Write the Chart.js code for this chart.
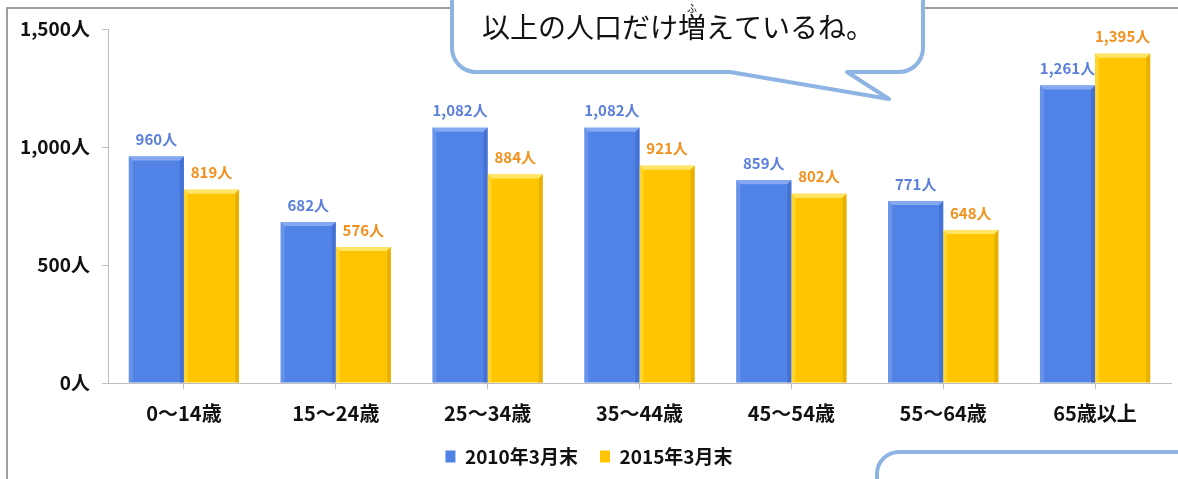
<!DOCTYPE html>
<html lang="ja">
<head>
<meta charset="utf-8">
<script src="https://cdn.jsdelivr.net/npm/chart.js@4"></script>
<style>
  html, body { margin: 0; padding: 0; background: #fff; }
  #wrap { width: 1178px; height: 479px; position: relative; }
</style>
</head>
<body>
<div id="wrap"><canvas id="ageChart"></canvas></div>
<script>
// data
const categories = ["0〜14歳", "15〜24歳", "25〜34歳", "35〜44歳", "45〜54歳", "55〜64歳", "65歳以上"];
const seriesNames = ["2010年3月末", "2015年3月末"];
const values2010 = [960, 682, 1082, 1082, 859, 771, 1261];
const values2015 = [819, 576, 884, 921, 802, 648, 1395];
const yTicks = [0, 500, 1000, 1500];
const bubbleText = "以上の人口だけ増えているね。";
const rubyText = "ふ";

const FONT = "'Noto Sans CJK JP', 'Noto Sans', sans-serif";
const fmt = v => v.toLocaleString("en-US") + "人";

// per dataset: fill, light bevel, dark bevel, label colour
const looks = [
  { fill: "#5182e6", light: "#86a8f2", dark: "#3a66c8", label: "#5b7fdc" },
  { fill: "#ffc600", light: "#ffe566", dark: "#d9a200", label: "#f3901c" }
];

// bevel look + value labels over each bar
const barDecor = {
  id: "barDecor",
  afterDatasetsDraw(chart) {
    const ctx = chart.ctx;
    chart.data.datasets.forEach((ds, i) => {
      const look = looks[i];
      chart.getDatasetMeta(i).data.forEach((bar, j) => {
        const l = bar.x - bar.width / 2, r = bar.x + bar.width / 2;
        const t = bar.y, b = bar.base, bv = 4;
        ctx.save();
        ctx.fillStyle = look.light;
        ctx.beginPath();
        ctx.moveTo(l, t); ctx.lineTo(r, t); ctx.lineTo(r - bv, t + bv); ctx.lineTo(l + bv, t + bv);
        ctx.closePath(); ctx.fill();
        ctx.globalAlpha = 0.45;
        ctx.beginPath();
        ctx.moveTo(l, t); ctx.lineTo(l + bv, t + bv); ctx.lineTo(l + bv, b); ctx.lineTo(l, b);
        ctx.closePath(); ctx.fill();
        ctx.globalAlpha = 0.6;
        ctx.fillStyle = look.dark;
        ctx.beginPath();
        ctx.moveTo(r, t); ctx.lineTo(r, b); ctx.lineTo(r - bv, b); ctx.lineTo(r - bv, t + bv);
        ctx.closePath(); ctx.fill();
        ctx.globalAlpha = 1;
        ctx.fillStyle = look.label;
        ctx.font = "bold 15px " + FONT;
        ctx.textAlign = "center";
        ctx.textBaseline = "middle";
        ctx.fillText(fmt(ds.data[j]), bar.x, t - 17);
        ctx.restore();
      });
    });
  }
};

function roundPath(ctx, pts, rad) {
  // pts: closed polygon, corners rounded with arcTo (third value 0 = sharp)
  ctx.beginPath();
  const n = pts.length;
  ctx.moveTo((pts[0][0] + pts[1][0]) / 2, (pts[0][1] + pts[1][1]) / 2);
  for (let k = 1; k <= n; k++) {
    const p = pts[k % n], q = pts[(k + 1) % n];
    ctx.arcTo(p[0], p[1], q[0], q[1], p[2] === 0 ? 0 : rad);
  }
  ctx.closePath();
}

// frame and the two speech bubbles laid over the chart
const overlay = {
  id: "overlay",
  beforeDraw(chart) {
    const ctx = chart.ctx;
    ctx.save();
    ctx.fillStyle = "#fff";
    ctx.fillRect(0, 0, chart.width, chart.height);
    ctx.strokeStyle = "#808080";
    ctx.lineWidth = 1.5;
    ctx.beginPath();
    ctx.moveTo(7, chart.height); ctx.lineTo(7, 8); ctx.lineTo(chart.width, 8);
    ctx.stroke();
    ctx.restore();
  },
  afterDraw(chart) {
    const ctx = chart.ctx;
    ctx.save();
    ctx.fillStyle = "#fff";
    ctx.strokeStyle = "#8db4e3";
    ctx.lineWidth = 4;
    ctx.lineJoin = "round";
    // top bubble with tail
    roundPath(ctx, [
      [452, -40], [923, -40], [923, 72], [847, 72, 0], [889, 99, 0], [730, 72, 0], [452, 72]
    ], 24);
    ctx.fill(); ctx.stroke();
    ctx.fillStyle = "#111";
    ctx.font = "28px " + FONT;
    ctx.textAlign = "left";
    ctx.textBaseline = "middle";
    ctx.fillText(bubbleText, 482, 27);
    const before = ctx.measureText(bubbleText.slice(0, 7)).width;
    const kanji = ctx.measureText("増").width;
    ctx.font = "10px " + FONT;
    ctx.textAlign = "center";
    ctx.fillText(rubyText, 482 + before + kanji / 2, 8);
    // bottom-right bubble, mostly off the picture
    ctx.fillStyle = "#fff";
    roundPath(ctx, [[877, 452], [1260, 452], [1260, 560], [877, 560]], 22);
    ctx.fill(); ctx.stroke();
    ctx.restore();
  }
};

const axisGrey = "#bfbfbf";

new Chart(document.getElementById("ageChart"), {
  type: "bar",
  data: {
    labels: categories,
    datasets: [
      { label: seriesNames[0], data: values2010, backgroundColor: looks[0].fill },
      { label: seriesNames[1], data: values2015, backgroundColor: looks[1].fill }
    ]
  },
  plugins: [overlay, barDecor],
  options: {
    responsive: true,
    maintainAspectRatio: false,
    animation: false,
    categoryPercentage: 0.726,
    barPercentage: 1.0,
    layout: { padding: { top: 29, right: 7, bottom: 3, left: 7 } },
    plugins: {
      tooltip: { enabled: false },
      legend: {
        position: "bottom",
        labels: {
          boxWidth: 10,
          boxHeight: 12,
          padding: 22,
          color: "#111",
          font: { family: FONT, size: 19, weight: "bold" }
        }
      }
    },
    scales: {
      x: {
        afterFit: s => { s.height = 42; },
        grid: { offset: false, drawOnChartArea: false, tickLength: 6, color: axisGrey },
        border: { color: axisGrey },
        ticks: { padding: 12, color: "#111", font: { family: FONT, size: 20, weight: "bold" } }
      },
      y: {
        min: 0,
        max: 1500,
        afterFit: s => { s.width = 101; },
        afterBuildTicks: s => { s.ticks = yTicks.map(v => ({ value: v })); },
        grid: { drawOnChartArea: false, tickLength: 6, color: axisGrey },
        border: { color: axisGrey },
        ticks: { padding: 12, color: "#111", callback: v => fmt(v), font: { family: FONT, size: 19, weight: "bold" } }
      }
    }
  }
});
</script>
</body>
</html>
